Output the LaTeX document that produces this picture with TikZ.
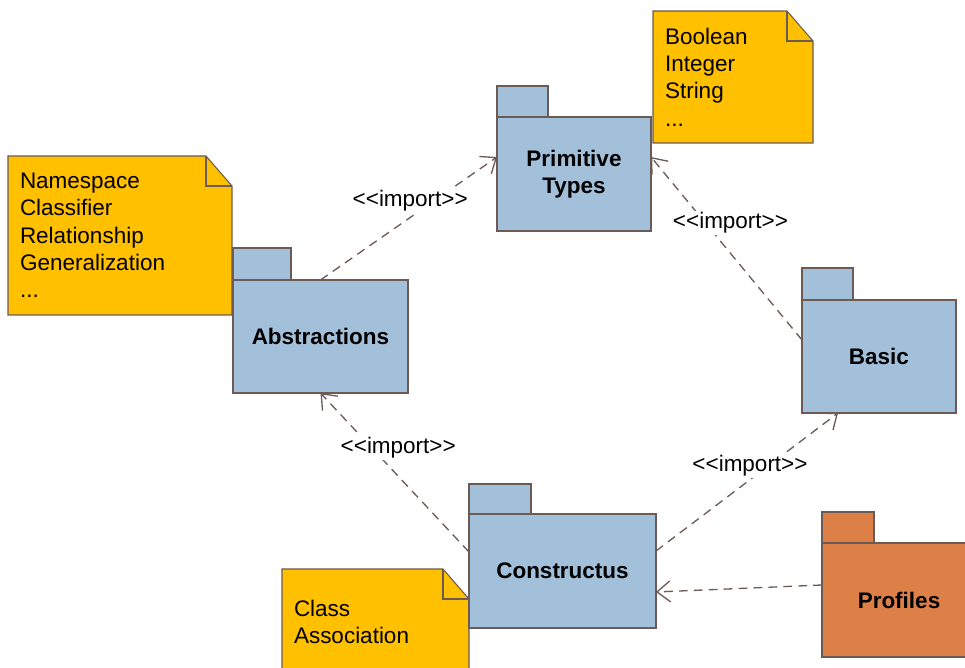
\documentclass[tikz,border=0pt]{standalone}
\usepackage{fontspec}
\setmainfont{Liberation Sans}
\usepackage{xcolor}
\definecolor{pkgblue}{RGB}{162,192,218}
\definecolor{pkgorange}{RGB}{221,128,71}
\definecolor{notegold}{RGB}{255,192,0}
\definecolor{umlline}{RGB}{108,90,84}
\usepackage{tikz}
\usetikzlibrary{arrows.meta,positioning,backgrounds}
\newcommand{\umlfont}{\fontsize{12.8}{15.5}\selectfont}
\newcommand{\importlbl}{<\kern0pt<import>\kern0pt>}
% note outline with folded corner, drawn behind the text node
\newcommand{\notecorner}[1]{%
  \begin{pgfonlayer}{background}
    \draw[notebox] (#1.south west) -- (#1.north west) -- ([xshift=-0.52cm]#1.north east)
      -- ([yshift=-0.6cm]#1.north east) -- (#1.south east) -- cycle;
    \draw[umlline, line width=0.6pt] ([xshift=-0.52cm]#1.north east) |- ([yshift=-0.6cm]#1.north east);
  \end{pgfonlayer}}
\tikzset{
  pkg/.style={draw=umlline, line width=1.1pt, fill=pkgblue, align=center, outer sep=0pt, inner sep=0pt, font=\umlfont\bfseries},
  pkgtab/.style={draw=umlline, line width=1.1pt, fill=pkgblue, outer sep=0pt, inner sep=0pt, anchor=south west},
  note/.style={anchor=north west, align=left, inner xsep=0.24cm, inner ysep=0pt, outer sep=0pt, font=\umlfont},
  notebox/.style={draw=umlline, line width=0.6pt, fill=notegold},
  imp/.style={draw=umlline, line width=0.75pt, dash pattern=on 5pt off 3.5pt, -{Straight Barb[length=7.5pt,width=12pt]}},
  lbl/.style={fill=white, inner sep=1pt, font=\umlfont}
}

\begin{document}
\begin{tikzpicture}
  \useasboundingbox (0,0) rectangle (19.3,13.36);
  % packages
  \node[pkg, minimum width=3.08cm, minimum height=2.28cm] (prim) at (11.48,9.88) {Primitive\\Types};
  \node[pkgtab, minimum width=1.02cm, minimum height=0.62cm] (primtab) at (prim.north west) {};
  \node[pkg, minimum width=3.5cm, minimum height=2.26cm] (ab) at (6.41,6.63) {Abstractions};
  \node[pkgtab, minimum width=1.16cm, minimum height=0.64cm] (abtab) at (ab.north west) {};
  \node[pkg, minimum width=3.08cm, minimum height=2.26cm] (basic) at (17.58,6.23) {Basic};
  \node[pkgtab, minimum width=1.02cm, minimum height=0.64cm] (basictab) at (basic.north west) {};
  \node[pkg, minimum width=3.74cm, minimum height=2.28cm] (ct) at (11.25,1.94) {Constructus};
  \node[pkgtab, minimum width=1.24cm, minimum height=0.6cm] (cttab) at (ct.north west) {};
  \node[pkg, fill=pkgorange, minimum width=3.08cm, minimum height=2.28cm] (prof) at (17.98,1.36) {Profiles};
  \node[pkgtab, fill=pkgorange, minimum width=1.04cm, minimum height=0.62cm] (proftab) at (prof.north west) {};

  % notes
  \node[note, text width=2.72cm, minimum height=2.64cm] (nprim) at (13.06,13.14) {Boolean\\Integer\\String\\...};
  \notecorner{nprim}
  \node[note, text width=4.0cm, minimum height=3.18cm] (nab) at (0.16,10.24) {Namespace\\Classifier\\Relationship\\Generalization\\...};
  \notecorner{nab}
  \node[note, text width=3.26cm, minimum height=2.12cm] (nct) at (5.64,1.98) {Class\\Association};
  \notecorner{nct}

  % imports
  \draw[imp] (ab.north) -- node[lbl, xshift=0.03cm, yshift=0.36cm]{\importlbl} ([yshift=0.34cm]prim.west);
  \draw[imp] ([yshift=0.33cm]basic.west) -- node[lbl, xshift=0.08cm, yshift=0.51cm]{\importlbl} ([yshift=0.34cm]prim.east);
  \draw[imp] ([yshift=0.38cm]ct.west) -- node[lbl, xshift=0.07cm, yshift=0.5cm]{\importlbl} (ab.south);
  \draw[imp] ([yshift=0.4cm]ct.east) -- node[lbl, xshift=0.06cm, yshift=0.33cm]{\importlbl} ([xshift=-0.82cm]basic.south);
  \draw[imp] ([yshift=0.3cm]prof.west) -- ([yshift=-0.42cm]ct.east);
\end{tikzpicture}
\end{document}
